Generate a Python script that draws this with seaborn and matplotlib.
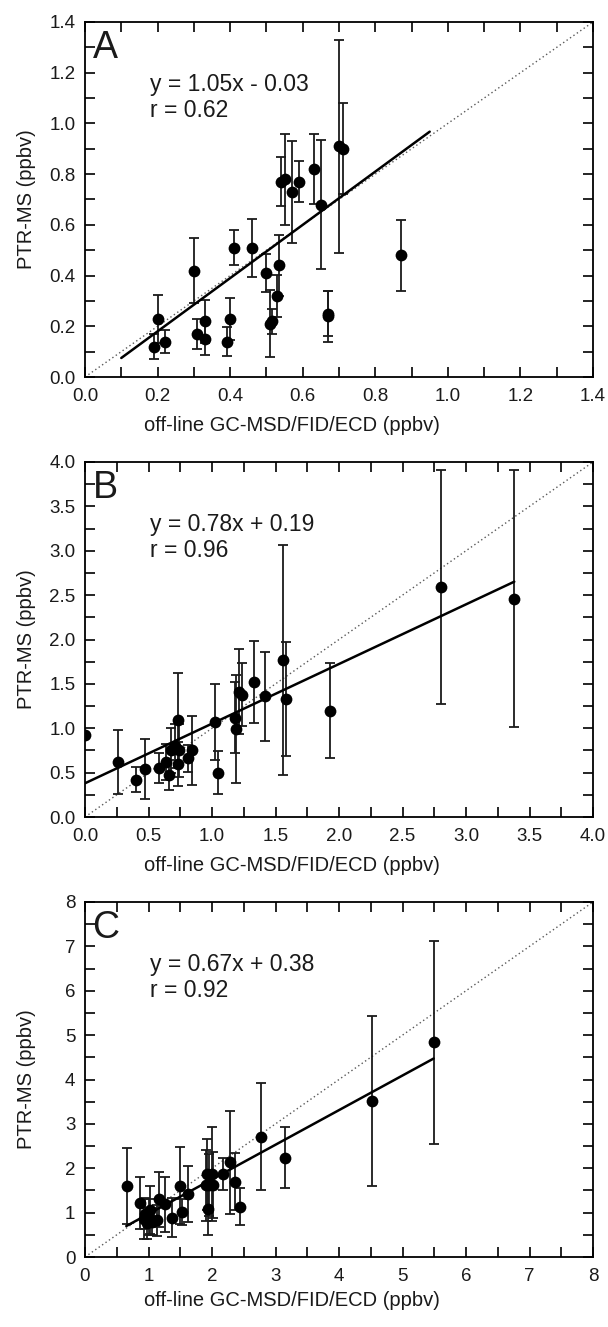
import numpy as np
import pandas as pd
import matplotlib
matplotlib.use("Agg")
import matplotlib.pyplot as plt
import seaborn as sns
from matplotlib.ticker import MultipleLocator, FormatStrFormatter

sns.set_style("ticks")
plt.rcParams['font.family'] = ['Liberation Sans', 'DejaVu Sans']

# Panel A
a_x = [0.19, 0.20, 0.22, 0.30, 0.31, 0.33, 0.33, 0.39, 0.40, 0.41, 0.46, 0.50, 0.51, 0.515,
       0.53, 0.535, 0.54, 0.55, 0.57, 0.59, 0.63, 0.65, 0.67, 0.67, 0.70, 0.71, 0.87]
a_y = [0.12, 0.23, 0.14, 0.42, 0.17, 0.22, 0.15, 0.14, 0.23, 0.51, 0.51, 0.41, 0.21, 0.22,
       0.32, 0.44, 0.77, 0.78, 0.73, 0.77, 0.82, 0.68, 0.25, 0.24, 0.91, 0.90, 0.48]
a_err = [0.05, 0.095, 0.045, 0.128, 0.06, 0.085, 0.065, 0.057, 0.083, 0.068, 0.114, 0.075, 0.133, 0.05,
         0.082, 0.12, 0.097, 0.18, 0.20, 0.08, 0.138, 0.256, 0.09, 0.10, 0.42, 0.18, 0.14]

# Panel B
b_x = [0.0, 0.26, 0.40, 0.47, 0.58, 0.64, 0.66, 0.68, 0.71, 0.73, 0.73, 0.74, 0.81, 0.84,
       1.02, 1.05, 1.18, 1.19, 1.21, 1.24, 1.33, 1.42, 1.56, 1.58, 1.93, 2.80, 3.38]
b_y = [0.92, 0.62, 0.42, 0.54, 0.55, 0.62, 0.47, 0.75, 0.80, 1.09, 0.60, 0.75, 0.66, 0.75,
       1.07, 0.50, 1.12, 0.99, 1.41, 1.38, 1.52, 1.36, 1.77, 1.33, 1.20, 2.59, 2.46]
b_err = [0.0, 0.36, 0.14, 0.34, 0.17, 0.20, 0.17, 0.25, 0.25, 0.53, 0.25, 0.30, 0.15, 0.39,
         0.43, 0.24, 0.40, 0.61, 0.48, 0.35, 0.46, 0.50, 1.30, 0.64, 0.54, 1.32, 1.45]

# Panel C
c_x = [0.66, 0.86, 0.93, 0.95, 0.98, 1.00, 1.02, 1.05, 1.13, 1.16, 1.26, 1.37, 1.50, 1.53, 1.62,
       1.90, 1.92, 1.93, 1.95, 2.00, 2.01, 2.17, 2.29, 2.36, 2.44, 2.77, 3.15, 4.52, 5.49]
c_y = [1.60, 1.21, 0.85, 0.98, 0.76, 0.90, 1.06, 0.80, 0.83, 1.30, 1.19, 0.89, 1.61, 1.01, 1.42,
       1.62, 1.87, 1.09, 1.62, 1.87, 1.62, 1.87, 2.13, 1.70, 1.13, 2.71, 2.24, 3.52, 4.84]
c_err = [0.86, 0.59, 0.45, 0.35, 0.35, 0.40, 0.55, 0.30, 0.35, 0.62, 0.62, 0.45, 0.86, 0.30, 0.62,
         0.80, 0.80, 0.60, 0.70, 1.05, 0.75, 0.35, 1.15, 0.65, 0.42, 1.20, 0.69, 1.92, 2.29]

panels = ["A", "B", "C"]
eq_text = ["y = 1.05x - 0.03", "y = 0.78x + 0.19", "y = 0.67x + 0.38"]
r_text = ["r = 0.62", "r = 0.96", "r = 0.92"]
# fitted lines as drawn (slope, intercept, x range)
fit_slope = [1.05, 0.672, 0.78]
fit_icpt = [-0.03, 0.38, 0.19]
fit_range = [(0.10, 0.95), (0.0, 3.38), (0.65, 5.49)]
ax_max = [1.4, 4.0, 8.0]
major_step = [0.2, 0.5, 1.0]
minor_step = [0.1, 0.25, 0.5]
tick_fmt = ["%.1f", "%.1f", "%d"]
xlabel_y = [-0.11, -0.11, -0.095]

data = [(a_x, a_y, a_err), (b_x, b_y, b_err), (c_x, c_y, c_err)]

fig = plt.figure(figsize=(6.08, 13.27), dpi=100)
left, width, height = 85 / 608, 508 / 608, 355 / 1327
bottoms = [1 - 377 / 1327, 1 - 817 / 1327, 1 - 1257 / 1327]

for i in range(3):
    ax = fig.add_axes([left, bottoms[i], width, height])
    xs, ys, es = data[i]
    df = pd.DataFrame({"x": xs, "y": ys, "err": es})
    m = ax_max[i]

    ax.plot([0, m], [0, m], linestyle=(0, (1, 2)), color="0.35", lw=1.0, zorder=1)
    ax.errorbar(df["x"], df["y"], yerr=df["err"], fmt="none", ecolor="0.1",
                elinewidth=1.3, capsize=3.5, capthick=1.3, zorder=2)
    sns.scatterplot(data=df, x="x", y="y", ax=ax, color="black", s=72,
                    edgecolor="black", linewidth=0, zorder=3)
    fx = np.array(fit_range[i])
    ax.plot(fx, fit_slope[i] * fx + fit_icpt[i], color="black", lw=1.8, zorder=4)

    ax.set_xlim(0, m)
    ax.set_ylim(0, m)
    ax.xaxis.set_major_locator(MultipleLocator(major_step[i]))
    ax.xaxis.set_minor_locator(MultipleLocator(minor_step[i]))
    ax.yaxis.set_major_locator(MultipleLocator(major_step[i]))
    ax.yaxis.set_minor_locator(MultipleLocator(minor_step[i]))
    ax.xaxis.set_major_formatter(FormatStrFormatter(tick_fmt[i]))
    ax.yaxis.set_major_formatter(FormatStrFormatter(tick_fmt[i]))
    ax.tick_params(which="both", direction="in", top=True, right=True,
                   length=7, width=1.2, color="black")
    ax.tick_params(which="major", labelsize=13.5, labelcolor="0.1")
    ax.tick_params(axis="x", which="major", pad=8)
    ax.tick_params(axis="y", which="major", pad=7)
    for sp in ax.spines.values():
        sp.set_linewidth(1.3)
        sp.set_color("black")

    ax.set_xlabel("off-line GC-MSD/FID/ECD (ppbv)", fontsize=14.5, color="0.1")
    ax.set_ylabel("PTR-MS (ppbv)", fontsize=14.5, color="0.1")
    ax.xaxis.set_label_coords(0.407, xlabel_y[i])
    ax.yaxis.set_label_coords(-0.096, 0.5)

    ax.text(0.015, 0.90, panels[i], transform=ax.transAxes, fontsize=27,
            va="baseline", ha="left", color="0.1")
    ax.text(0.128, 0.806, eq_text[i], transform=ax.transAxes, fontsize=16.5,
            va="baseline", ha="left", color="0.1")
    ax.text(0.128, 0.732, r_text[i], transform=ax.transAxes, fontsize=16.5,
            va="baseline", ha="left", color="0.1")

fig.savefig("out.png", dpi=100)
